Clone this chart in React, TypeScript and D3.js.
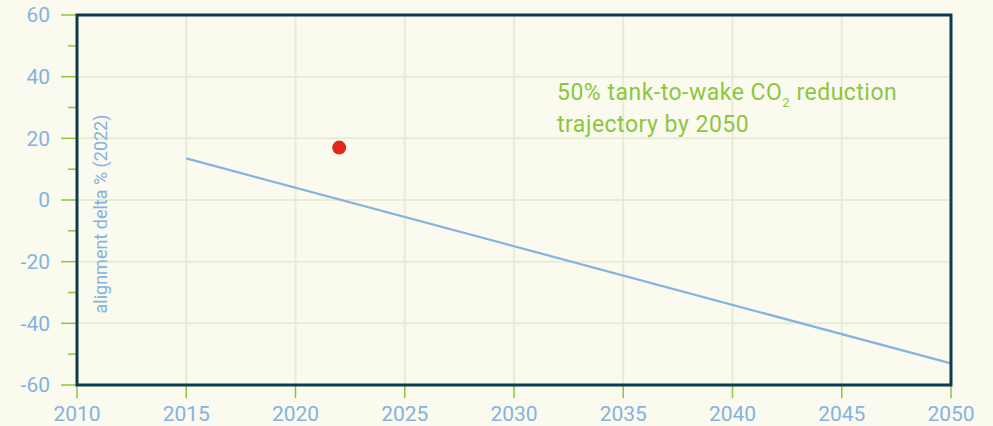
import React from "react";
import * as d3 from "d3";

const xTicks = [2010, 2015, 2020, 2025, 2030, 2035, 2040, 2045, 2050];
const yTicks = [-60, -40, -20, 0, 20, 40, 60];
const yMinorTicks = [-50, -30, -10, 10, 30, 50];
const trajectoryYears = [2015, 2050];
const trajectoryValues = [13.5, -53];
const pointYears = [2022];
const pointValues = [17];
const annotationLines = ["50% tank-to-wake CO", "trajectory by 2050"];

const W = 993, H = 426;
const left = 77, right = 951, top = 15, bottom = 385;
const bg = "#fafaef";
const green = "#8dc63f";
const blue = "#85b3e0";
const frame = "#0f3b50";
const grid = "#e5edd3";
const font = "Roboto, 'Noto Sans', sans-serif";

export default function App() {
  const x = d3.scaleLinear().domain([2010, 2050]).range([left, right]);
  const y = d3.scaleLinear().domain([-60, 60]).range([bottom, top]);
  const lineGen = d3.line<number>().x((d, i) => x(trajectoryYears[i])).y((d) => y(d));
  return (
    <svg width={W} height={H} style={{ position: "absolute", left: 0, top: 0, background: bg }}>
      <rect x={0} y={0} width={W} height={H} fill={bg} />
      {xTicks.map((t) => (
        <line key={"gx" + t} x1={x(t)} x2={x(t)} y1={top} y2={bottom} stroke={grid} strokeWidth={2} />
      ))}
      {yTicks.map((t) => (
        <line key={"gy" + t} x1={left} x2={right} y1={y(t)} y2={y(t)} stroke={grid} strokeWidth={2} />
      ))}
      {yTicks.map((t) => (
        <g key={"ty" + t}>
          <line x1={61} x2={left} y1={y(t)} y2={y(t)} stroke={green} strokeWidth={1.5} />
          <text x={50} y={y(t)} dy="0.35em" textAnchor="end" fill={blue} fontSize={21} fontFamily={font}>{t}</text>
        </g>
      ))}
      {yMinorTicks.map((t) => (
        <line key={"my" + t} x1={68} x2={left} y1={y(t)} y2={y(t)} stroke={green} strokeWidth={1.5} />
      ))}
      {xTicks.map((t) => (
        <g key={"tx" + t}>
          <line x1={x(t)} x2={x(t)} y1={bottom} y2={398} stroke={green} strokeWidth={1.5} />
          <text x={x(t)} y={421} textAnchor="middle" fill={blue} fontSize={21} fontFamily={font}>{t}</text>
        </g>
      ))}
      <path d={lineGen(trajectoryValues) || ""} fill="none" stroke={blue} strokeWidth={2.2} />
      {pointYears.map((yr, i) => (
        <circle key={"p" + yr} cx={x(yr)} cy={y(pointValues[i])} r={7} fill="#e1261c" />
      ))}
      <rect x={left} y={top} width={right - left} height={bottom - top} fill="none" stroke={frame} strokeWidth={3} />
      <text x={557} y={100} fill={green} fontSize={23} letterSpacing={0.5} fontFamily={font}>
        {annotationLines[0]}
        <tspan fontSize={13} dy={7}>2</tspan>
        <tspan dy={-7}> reduction</tspan>
      </text>
      <text x={557} y={132} fill={green} fontSize={23} letterSpacing={0.5} fontFamily={font}>{annotationLines[1]}</text>
      <text transform={`translate(107,${(110 + 318) / 2}) rotate(-90)`} textAnchor="middle" fill={blue} fontSize={18} fontFamily={font}>
        alignment delta % (2022)
      </text>
    </svg>
  );
}
